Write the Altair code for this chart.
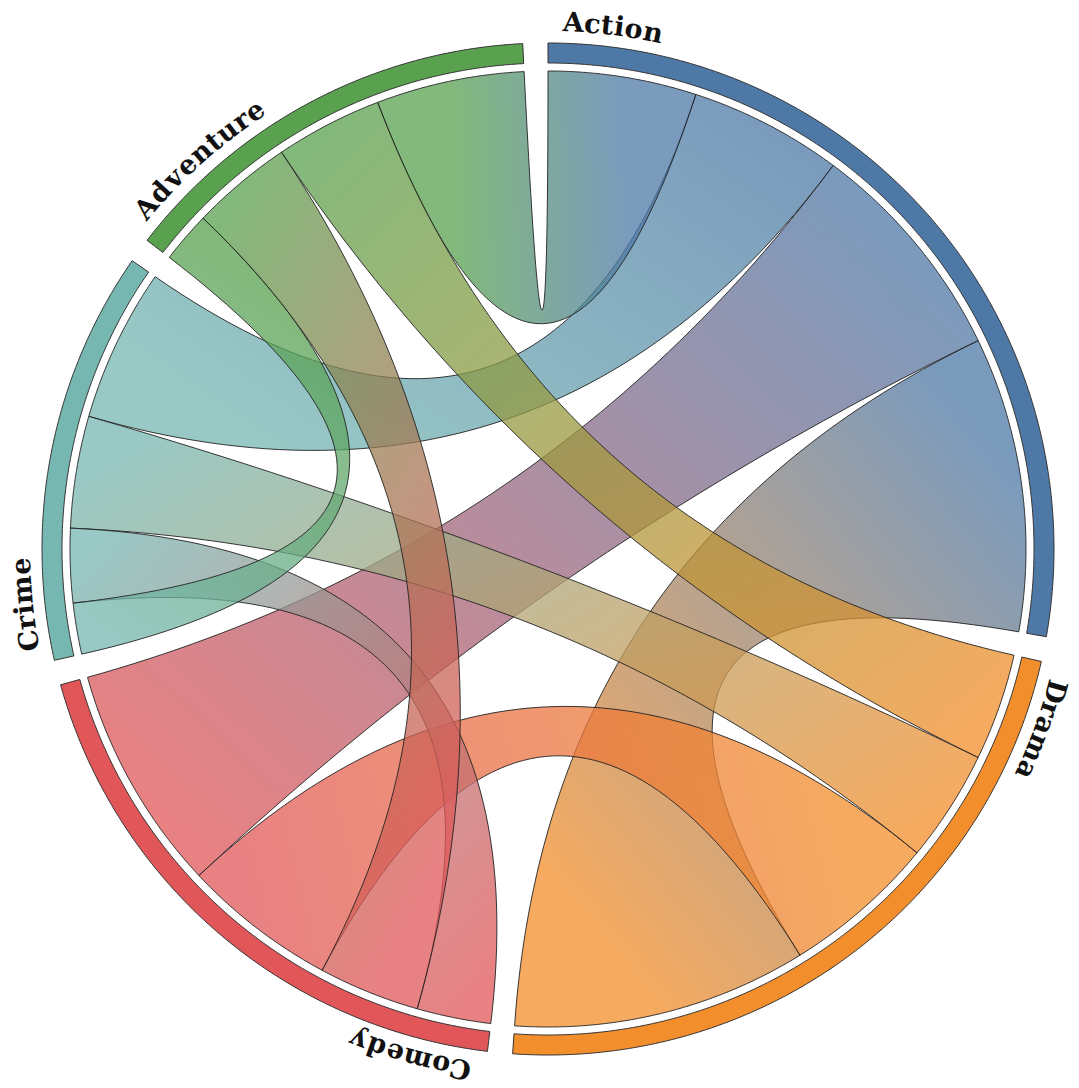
import math
import altair as alt

# ---------------- data ----------------
groups = ["Action", "Drama", "Comedy", "Crime", "Adventure"]
group_colors = ["#4e79a7", "#f28e2b", "#e15759", "#76b7b2", "#59a14f"]

link_source = ["Action", "Action", "Action", "Action", "Drama", "Drama", "Drama", "Comedy", "Comedy", "Crime"]
link_target = ["Drama", "Comedy", "Crime", "Adventure", "Comedy", "Crime", "Adventure", "Crime", "Adventure", "Adventure"]
link_value = [35.8, 27.5, 18.6, 18.0, 18.7, 13.6, 13.0, 9.0, 12.3, 6.2]

# ---------------- layout / style ----------------
CX, CY = 540, 541
R_OUT, R_IN, R_RIB, R_LABEL = 506, 486, 478, 518
PAD = 0.05
FONT_SIZE = 27
LABEL_PAD = math.radians(1.6)
# approximate advance widths (em) used to lay letters along the arc
CHAR_W = {'A': .776, 'C': .75, 'D': .84, 'a': .675, 'c': .61, 'd': .74, 'e': .67,
          'i': .40, 'm': 1.06, 'n': .74, 'o': .685, 'r': .55, 't': .478, 'u': .74,
          'v': .67, 'y': .67}

n = len(groups)
idx = {g: i for i, g in enumerate(groups)}
M = [[0.0] * n for _ in range(n)]
for s, t, v in zip(link_source, link_target, link_value):
    M[idx[s]][idx[t]] = v
    M[idx[t]][idx[s]] = v
totals = [sum(r) for r in M]
k = (2 * math.pi - PAD * n) / sum(totals)

sub = {}
group_ang = []
ang = 0.0
for i in range(n):
    a0 = ang
    for j in sorted(range(n), key=lambda j: M[i][j]):
        if M[i][j] <= 0:
            continue
        sub[(i, j)] = (ang, ang + M[i][j] * k)
        ang += M[i][j] * k
    group_ang.append((a0, ang))
    ang += PAD


def pt(a, r):
    return [r * math.sin(a), -r * math.cos(a)]


def arc_pts(a0, a1, r):
    m = max(2, int(abs(a1 - a0) / 0.005) + 2)
    return [pt(a0 + (a1 - a0) * q / (m - 1), r) for q in range(m)]


def quad_pts(p0, p2, m=60):
    out = []
    for q in range(1, m):
        t = q / m
        out.append([(1 - t) ** 2 * p0[0] + t * t * p2[0], (1 - t) ** 2 * p0[1] + t * t * p2[1]])
    return out


proj = dict(type="identity", scale=1, translate=[CX, CY])

# outer ring
ring_features = []
for i, g in enumerate(groups):
    a0, a1 = group_ang[i]
    ring = arc_pts(a0, a1, R_OUT) + arc_pts(a1, a0, R_IN)
    ring.append(ring[0])
    ring_features.append({"type": "Feature", "properties": {"group": g},
                          "geometry": {"type": "Polygon", "coordinates": [ring]}})

ring_layer = alt.Chart(alt.Data(values=ring_features)).mark_geoshape(
    stroke="#333333", strokeWidth=1
).encode(
    fill=alt.Color("properties.group:N", scale=alt.Scale(domain=groups, range=group_colors), legend=None)
).project(**proj)

# ribbons
ribbon_layers = []
for s, t, v in zip(link_source, link_target, link_value):
    i, j = idx[s], idx[t]
    s0, s1 = sub[(i, j)]
    t0, t1 = sub[(j, i)]
    poly = arc_pts(s0, s1, R_RIB) + quad_pts(pt(s1, R_RIB), pt(t0, R_RIB)) \
        + arc_pts(t0, t1, R_RIB) + quad_pts(pt(t1, R_RIB), pt(s0, R_RIB))
    poly.append(poly[0])
    xs = [p[0] for p in poly]
    ys = [p[1] for p in poly]
    minx, maxx, miny, maxy = min(xs), max(xs), min(ys), max(ys)
    ps = pt((s0 + s1) / 2, R_RIB)
    pe = pt((t0 + t1) / 2, R_RIB)
    grad = alt.LinearGradient(
        gradient="linear",
        stops=[alt.GradientStop(color=group_colors[i], offset=0),
               alt.GradientStop(color=group_colors[j], offset=1)],
        x1=(ps[0] - minx) / (maxx - minx), y1=(ps[1] - miny) / (maxy - miny),
        x2=(pe[0] - minx) / (maxx - minx), y2=(pe[1] - miny) / (maxy - miny),
    )
    feat = {"type": "Feature", "properties": {"source": s, "target": t, "value": v},
            "geometry": {"type": "Polygon", "coordinates": [poly]}}
    ribbon_layers.append(
        alt.Chart(alt.Data(values=[feat])).mark_geoshape(
            fill=grad, fillOpacity=0.75, stroke="#222222", strokeWidth=1, strokeOpacity=0.9
        ).project(**proj)
    )

# labels: letters laid along the arc, starting just after each group's start angle
label_rows = []
for i, g in enumerate(groups):
    pos = 0.0
    for c in g:
        w = CHAR_W.get(c, 0.65) * FONT_SIZE
        a = group_ang[i][0] + LABEL_PAD + (pos + w / 2) / R_LABEL
        p = pt(a, R_LABEL)
        label_rows.append({"group": g, "ch": c, "lon": p[0], "lat": p[1],
                           "angle": math.degrees(a) % 360})
        pos += w

label_layer = alt.Chart(alt.Data(values=label_rows)).mark_text(
    font="DejaVu Serif", fontWeight="bold", fontSize=FONT_SIZE,
    align="center", baseline="alphabetic", color="#111111"
).encode(
    longitude="lon:Q", latitude="lat:Q", text="ch:N",
    angle=alt.Angle("angle:Q", scale=None)
).project(**proj)

chart = alt.layer(ring_layer, *ribbon_layers, label_layer).properties(
    width=1063, height=1072, padding=0, autosize=alt.AutoSizeParams(type="none")
).configure_view(stroke=None)

chart.save("out.html", embed_options={"renderer": "svg", "actions": False})
